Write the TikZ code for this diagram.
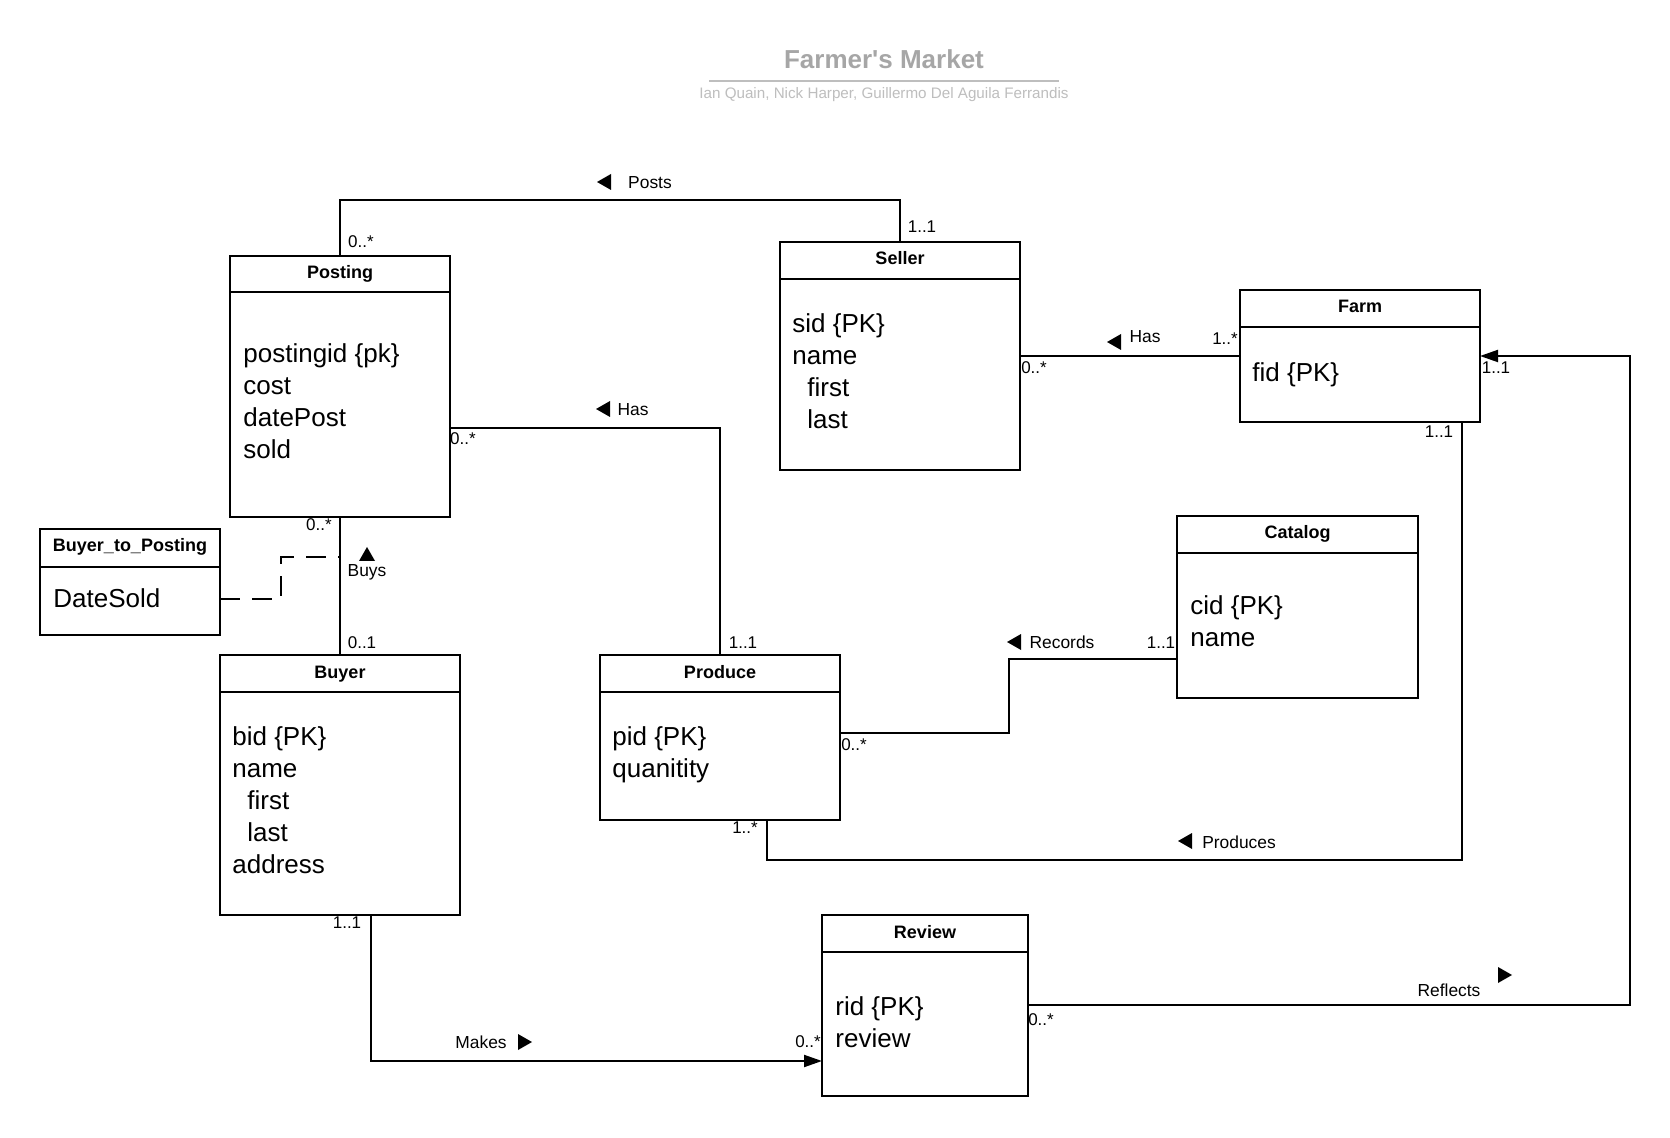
\documentclass[tikz,border=0pt]{standalone}
\usepackage{fontspec}
\setmainfont{Liberation Sans}
\newfontfamily\titlefont{Liberation Sans}
\usetikzlibrary{arrows.meta, fit}

\definecolor{titlegray}{RGB}{166,166,166}
\definecolor{subgray}{RGB}{190,190,190}

\tikzset{
  entity/.style={draw, line width=1pt, inner sep=0pt, outer sep=0pt},
  header/.style={anchor=base, font=\fontsize{9}{10}\selectfont\bfseries, inner sep=0pt},
  attrs/.style={anchor=north west, align=left, inner sep=0pt, font=\fontsize{13}{16}\selectfont},
  mult/.style={font=\fontsize{8.5}{10}\selectfont, inner sep=0pt},
  rel/.style={font=\fontsize{8.7}{10}\selectfont, inner sep=0pt},
  link/.style={line width=1pt},
  linkhead/.style={line width=1pt, -{Triangle[length=9pt,width=6pt]}},
}

\begin{document}
\begin{tikzpicture}[x=0.5pt, y=-0.5pt]
  % Поле рисунка
  \fill[white] (0,0) rectangle (1670,1138);
  \useasboundingbox (0,0) rectangle (1670,1138);

  % Заголовок
  \node (title) [font=\titlefont\fontsize{13}{15}\selectfont\bfseries, text=titlegray] at (884,59) {Farmer's Market};
  \draw[subgray, line width=1pt] (709,81) -- (1059,81);
  \node (authors) [font=\fontsize{7.6}{9}\selectfont, text=subgray] at (884,95) {Ian Quain, Nick Harper, Guillermo Del Aguila Ferrandis};

  % Классы
  \node (posting) [entity, fit={(230,256) (450,517)}] {};
  \node (seller) [entity, fit={(780,242) (1020,470)}] {};
  \node (farm) [entity, fit={(1240,290) (1480,422)}] {};
  \node (b2p) [entity, fit={(40,529) (220,635)}] {};
  \node (buyer) [entity, fit={(220,655) (460,915)}] {};
  \node (produce) [entity, fit={(600,655) (840,820)}] {};
  \node (catalog) [entity, fit={(1177,516) (1418,698)}] {};
  \node (review) [entity, fit={(822,915) (1028,1096)}] {};

  % Шапки классов
  \draw[link] (posting.west |- 0,292) -- (posting.east |- 0,292);
  \draw[link] (seller.west |- 0,279) -- (seller.east |- 0,279);
  \draw[link] (farm.west |- 0,327) -- (farm.east |- 0,327);
  \draw[link] (b2p.west |- 0,567) -- (b2p.east |- 0,567);
  \draw[link] (buyer.west |- 0,692) -- (buyer.east |- 0,692);
  \draw[link] (produce.west |- 0,692) -- (produce.east |- 0,692);
  \draw[link] (catalog.west |- 0,553) -- (catalog.east |- 0,553);
  \draw[link] (review.west |- 0,952) -- (review.east |- 0,952);

  \node (postinghead) [header] at (posting.north |- 0,279) {Posting};
  \node (sellerhead) [header] at (seller.north |- 0,265) {Seller};
  \node (farmhead) [header] at (farm.north |- 0,313) {Farm};
  \node (b2phead) [header] at (b2p.north |- 0,552) {Buyer\_to\_Posting};
  \node (buyerhead) [header] at (buyer.north |- 0,678) {Buyer};
  \node (producehead) [header] at (produce.north |- 0,678) {Produce};
  \node (cataloghead) [header] at (catalog.north |- 0,539) {Catalog};
  \node (reviewhead) [header] at (review.north |- 0,938) {Review};

  % Атрибуты
  \node (postingattr) [attrs] at (243,343) {postingid \{pk\}\\cost\\datePost\\sold};
  \node (sellerattr) [attrs] at (792,313) {sid \{PK\}\\name\\\hspace*{7.5pt}first\\\hspace*{7.5pt}last};
  \node (farmattr) [attrs] at (1252,362) {fid \{PK\}};
  \node (b2pattr) [attrs] at (53,588) {DateSold};
  \node (buyerattr) [attrs] at (232,726) {bid \{PK\}\\name\\\hspace*{7.5pt}first\\\hspace*{7.5pt}last\\address};
  \node (produceattr) [attrs] at (612,726) {pid \{PK\}\\quanitity};
  \node (catalogattr) [attrs] at (1190,595) {cid \{PK\}\\name};
  \node (reviewattr) [attrs] at (835,996) {rid \{PK\}\\review};

  % Связи
  \draw[link] (posting.north) -- (posting.north |- 0,200) -| (seller.north);
  \draw[link] (posting.east |- 0,428) -| (produce.north);
  \draw[link] (seller.east) -- (farm.west);
  \draw[link] (posting.south) -- (buyer.north);
  \coordinate (buysjoin) at (posting.south |- 0,557);
  \draw[link, dash pattern=on 10pt off 6pt] (b2p.east |- 0,599) -- (281,599) -- (281,557) -- (buysjoin);
  \draw[link] (produce.east |- 0,733) -| (1009,659) -- (catalog.west |- 0,659);
  \draw[link] (produce.south -| 767,0) |- (1462,860) -- (farm.south -| 1462,0);
  \draw[linkhead] (review.east |- 0,1005) -| (1630,356) -- (farm.east);
  \draw[linkhead] (buyer.south -| 371,0) |- (review.west |- 0,1061);

  % Названия связей
  \fill (597,182) -- (611,174) -- (611,190) -- cycle;
  \node (posts) [rel] at (650,183) {Posts};
  \fill (596,409) -- (610,401) -- (610,417) -- cycle;
  \node (hasproduce) [rel] at (633,410) {Has};
  \fill (1107,342) -- (1121,334) -- (1121,350) -- cycle;
  \node (hasfarm) [rel] at (1145,337) {Has};
  \fill (367,547) -- (359,561) -- (375,561) -- cycle;
  \node (buys) [rel] at (367,572) {Buys};
  \fill (1007,642) -- (1021,634) -- (1021,650) -- cycle;
  \node (records) [rel] at (1062,642) {Records};
  \fill (1178,841) -- (1192,833) -- (1192,849) -- cycle;
  \node (produces) [rel] at (1239,842) {Produces};
  \fill (1512,975) -- (1498,967) -- (1498,983) -- cycle;
  \node (reflects) [rel] at (1449,990) {Reflects};
  \fill (532,1042) -- (518,1034) -- (518,1050) -- cycle;
  \node (makes) [rel] at (481,1042) {Makes};

  % Кратности
  \node (mpostsA) [mult] at (361,242) {0..*};
  \node (mpostsB) [mult] at (922,227) {1..1};
  \node (mhasA) [mult] at (463,439) {0..*};
  \node (mhasB) [mult] at (743,643) {1..1};
  \node (mfarmA) [mult] at (1034,368) {0..*};
  \node (mfarmB) [mult] at (1225,339) {1..*};
  \node (mbuysA) [mult] at (319,525) {0..*};
  \node (mbuysB) [mult] at (362,643) {0..1};
  \node (mrecA) [mult] at (854,745) {0..*};
  \node (mrecB) [mult] at (1161,643) {1..1};
  \node (mprodA) [mult] at (745,828) {1..*};
  \node (mprodB) [mult] at (1439,432) {1..1};
  \node (mreflA) [mult] at (1041,1020) {0..*};
  \node (mreflB) [mult] at (1496,368) {1..1};
  \node (mmakeA) [mult] at (347,923) {1..1};
  \node (mmakeB) [mult] at (808,1042) {0..*};
\end{tikzpicture}
\end{document}
